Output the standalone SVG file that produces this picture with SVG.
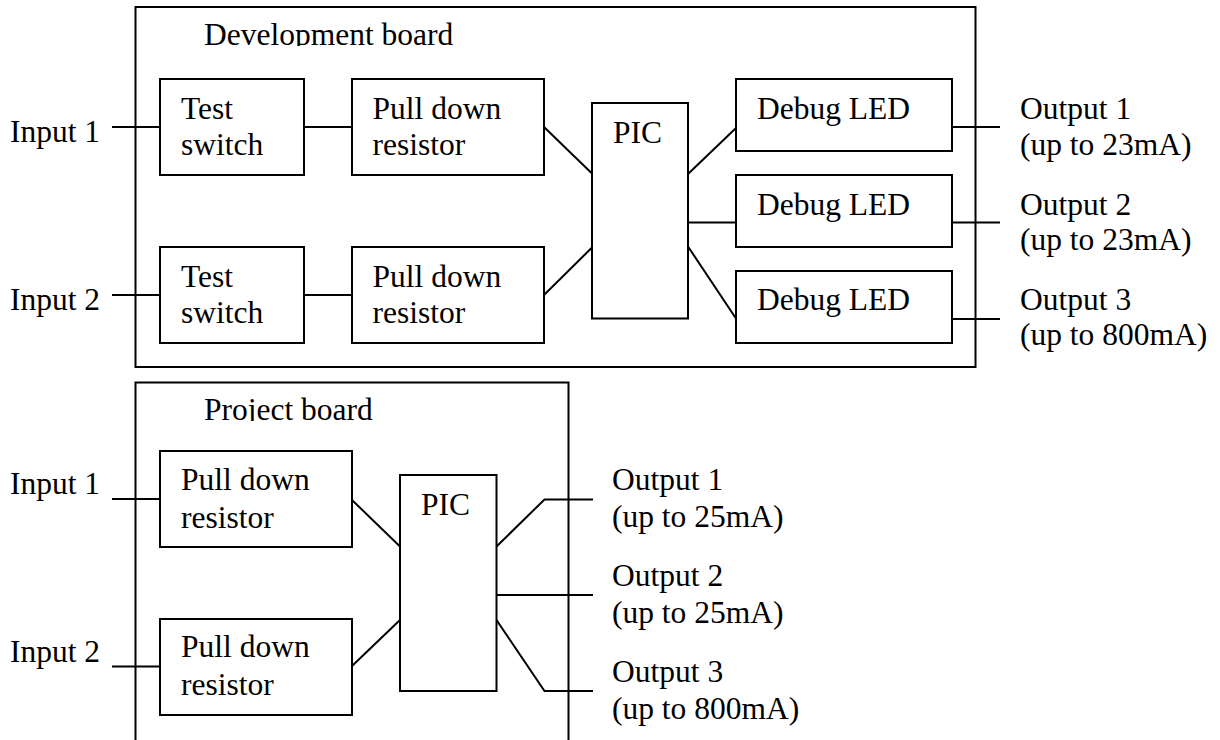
<svg xmlns="http://www.w3.org/2000/svg" width="1220" height="740" viewBox="0 0 1220 740">
<defs>
<style>
text{font-family:"Liberation Serif","Times New Roman",serif;font-size:31.5px;fill:#000}
rect.b{fill:#fff;stroke:#000;stroke-width:2}
.c line,.c polyline{stroke:#000;stroke-width:2;fill:none}
.frame{fill:none;stroke:#000;stroke-width:2}
</style>
<clipPath id="clipDev"><rect x="150" y="10" width="400" height="36"/></clipPath>
<clipPath id="clipProj"><rect x="150" y="385" width="400" height="36"/></clipPath>
</defs>
<rect width="1220" height="740" fill="#fff"/>

<g id="dev-board">
<rect class="frame" x="135.5" y="7" width="840" height="360"/>
<text x="204" y="45" clip-path="url(#clipDev)">Development board</text>
</g>
<g id="proj-board">
<polyline class="frame" points="135.5,742 135.5,382.5 568.5,382.5 568.5,742"/>
<text x="204" y="420" clip-path="url(#clipProj)">Project board</text>
</g>

<g class="c" id="connectors">
<line x1="112" y1="127" x2="160" y2="127"/>
<line x1="304" y1="127" x2="352" y2="127"/>
<line x1="544" y1="127" x2="592" y2="173.5"/>
<line x1="112" y1="295" x2="160" y2="295"/>
<line x1="304" y1="295" x2="352" y2="295"/>
<line x1="544" y1="295" x2="592" y2="247.5"/>
<line x1="688" y1="174" x2="736" y2="128"/>
<line x1="688" y1="222.5" x2="736" y2="222.5"/>
<line x1="688" y1="246.5" x2="736" y2="318.5"/>
<line x1="952" y1="127" x2="1000" y2="127"/>
<line x1="952" y1="222.5" x2="1000" y2="222.5"/>
<line x1="952" y1="319" x2="1000" y2="319"/>
<line x1="112" y1="499" x2="160" y2="499"/>
<line x1="352" y1="500" x2="400" y2="546.5"/>
<line x1="112" y1="666.5" x2="160" y2="666.5"/>
<line x1="352" y1="666" x2="400" y2="620"/>
<polyline points="496.5,546.5 544.5,499.5 593,499.5"/>
<line x1="496.5" y1="595" x2="593" y2="595"/>
<polyline points="496.5,620 544.5,691 593,691"/>
</g>

<g id="dev-in1"><text x="10" y="141.5">Input 1</text></g>
<g id="dev-in2"><text x="10" y="310">Input 2</text></g>

<g id="dev-ts1"><rect class="b" x="160" y="79" width="144" height="96"/><text x="181" y="119">Test</text><text x="181" y="155">switch</text></g>
<g id="dev-pd1"><rect class="b" x="352" y="79" width="192" height="96"/><text x="372.5" y="119">Pull down</text><text x="372.5" y="155">resistor</text></g>
<g id="dev-ts2"><rect class="b" x="160" y="247" width="144" height="96"/><text x="181" y="287">Test</text><text x="181" y="323">switch</text></g>
<g id="dev-pd2"><rect class="b" x="352" y="247" width="192" height="96"/><text x="372.5" y="287">Pull down</text><text x="372.5" y="323">resistor</text></g>
<g id="dev-pic"><rect class="b" x="592" y="103" width="96" height="215.5"/><text x="613" y="143">PIC</text></g>
<g id="dev-led1"><rect class="b" x="736" y="79" width="216" height="72"/><text x="757" y="118.5">Debug LED</text></g>
<g id="dev-led2"><rect class="b" x="736" y="175" width="216" height="72"/><text x="757" y="215">Debug LED</text></g>
<g id="dev-led3"><rect class="b" x="736" y="271" width="216" height="72"/><text x="757" y="310">Debug LED</text></g>

<g id="dev-out1"><text x="1020" y="119">Output 1</text><text x="1020" y="155">(up to 23mA)</text></g>
<g id="dev-out2"><text x="1020" y="215">Output 2</text><text x="1020" y="250">(up to 23mA)</text></g>
<g id="dev-out3"><text x="1020" y="310">Output 3</text><text x="1020" y="345">(up to 800mA)</text></g>

<g id="proj-in1"><text x="10" y="493.5">Input 1</text></g>
<g id="proj-in2"><text x="10" y="661.5">Input 2</text></g>
<g id="proj-pd1"><rect class="b" x="160" y="451" width="192" height="96"/><text x="181" y="490">Pull down</text><text x="181" y="528">resistor</text></g>
<g id="proj-pd2"><rect class="b" x="160" y="619" width="192" height="96"/><text x="181" y="657">Pull down</text><text x="181" y="695">resistor</text></g>
<g id="proj-pic"><rect class="b" x="400" y="475" width="96.5" height="216"/><text x="421" y="515">PIC</text></g>
<g id="proj-out1"><text x="612" y="490">Output 1</text><text x="612" y="526.5">(up to 25mA)</text></g>
<g id="proj-out2"><text x="612" y="586">Output 2</text><text x="612" y="623">(up to 25mA)</text></g>
<g id="proj-out3"><text x="612" y="682">Output 3</text><text x="612" y="718.5">(up to 800mA)</text></g>
</svg>
